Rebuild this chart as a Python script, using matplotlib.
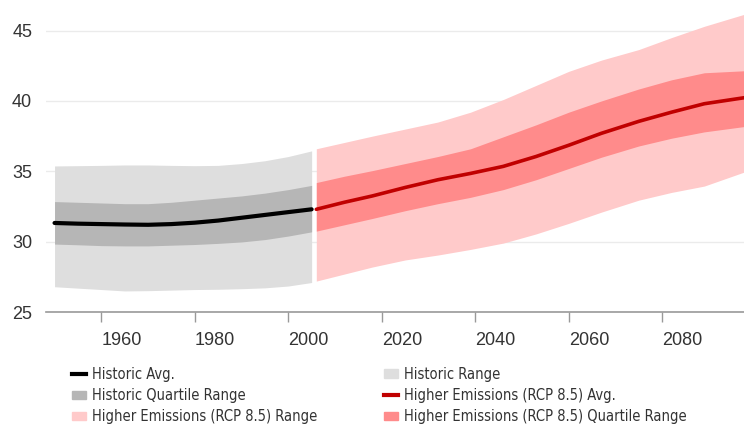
import matplotlib
matplotlib.use("Agg")
import matplotlib.pyplot as plt
from matplotlib.lines import Line2D
from matplotlib.patches import Patch

# historic period
hist_years = [1950, 1955, 1960, 1965, 1970, 1975, 1980, 1985, 1990, 1995, 2000, 2005]
hist_avg = [31.33, 31.28, 31.25, 31.22, 31.2, 31.25, 31.35, 31.5, 31.7, 31.9, 32.1, 32.3]
hist_q_hi = [32.85, 32.8, 32.75, 32.7, 32.7, 32.8, 32.95, 33.1, 33.25, 33.45, 33.7, 34.0]
hist_q_lo = [29.83, 29.78, 29.72, 29.7, 29.7, 29.75, 29.8, 29.88, 29.98, 30.15, 30.4, 30.7]
hist_r_hi = [35.38, 35.4, 35.42, 35.45, 35.45, 35.42, 35.4, 35.42, 35.55, 35.75, 36.05, 36.45]
hist_r_lo = [26.8, 26.7, 26.6, 26.5, 26.52, 26.56, 26.6, 26.62, 26.66, 26.72, 26.85, 27.1]

# higher emissions (RCP 8.5) projection
proj_years = [2006, 2012, 2018, 2025, 2032, 2039, 2046, 2053, 2060, 2067, 2075, 2082, 2089, 2098]
proj_avg = [32.3, 32.8, 33.25, 33.85, 34.4, 34.85, 35.35, 36.05, 36.85, 37.7, 38.55, 39.2, 39.8, 40.25]
proj_q_hi = [34.2, 34.65, 35.05, 35.55, 36.05, 36.6, 37.45, 38.3, 39.2, 40.0, 40.85, 41.5, 42.0, 42.15]
proj_q_lo = [30.75, 31.2, 31.65, 32.2, 32.7, 33.15, 33.7, 34.4, 35.2, 36.0, 36.8, 37.35, 37.8, 38.2]
proj_r_hi = [36.6, 37.05, 37.5, 38.0, 38.5, 39.2, 40.1, 41.1, 42.1, 42.9, 43.65, 44.5, 45.3, 46.2]
proj_r_lo = [27.2, 27.7, 28.2, 28.7, 29.05, 29.45, 29.9, 30.55, 31.3, 32.1, 32.95, 33.5, 33.95, 35.0]

y_ticks = [25, 30, 35, 40, 45]
x_ticks = [1960, 1980, 2000, 2020, 2040, 2060, 2080]

C_HIST_R = "#dedede"
C_HIST_Q = "#b6b6b6"
C_PROJ_R = "#ffcaca"
C_PROJ_Q = "#ff8b8b"
C_PROJ_L = "#c00000"

plt.rcParams["font.family"] = ["Liberation Sans", "DejaVu Sans"]

fig = plt.figure(figsize=(7.44, 4.24), dpi=100)
ax = fig.add_axes([0.062, 0.264, 0.938, 0.736])

ax.fill_between(hist_years, hist_r_lo, hist_r_hi, color=C_HIST_R, lw=0)
ax.fill_between(hist_years, hist_q_lo, hist_q_hi, color=C_HIST_Q, lw=0)
ax.plot(hist_years, hist_avg, color="black", lw=3, solid_capstyle="round")

ax.fill_between(proj_years, proj_r_lo, proj_r_hi, color=C_PROJ_R, lw=0)
ax.fill_between(proj_years, proj_q_lo, proj_q_hi, color=C_PROJ_Q, lw=0)
ax.plot(proj_years, proj_avg, color=C_PROJ_L, lw=2.6, solid_capstyle="round")

ax.set_xlim(1948.2, 2097.5)
ax.set_ylim(25, 47.17)
ax.set_yticks(y_ticks)
ax.set_xticks(x_ticks)
ax.grid(axis="y", color="#ebebeb", lw=1)
ax.set_axisbelow(True)
for s in ["top", "right", "left"]:
    ax.spines[s].set_visible(False)
ax.spines["bottom"].set_color("#999999")
ax.spines["bottom"].set_linewidth(1.2)
ax.tick_params(axis="y", length=0, pad=10, labelsize=13, labelcolor="#333333")
ax.tick_params(axis="x", length=7, width=1, color="#999999", pad=7,
               labelsize=13, labelcolor="#333333")
for lab in ax.get_xticklabels():
    lab.set_ha("left")

handles = [
    Line2D([0], [0], color="black", lw=3),
    Patch(color=C_HIST_Q),
    Patch(color=C_PROJ_R),
    Patch(color=C_HIST_R),
    Line2D([0], [0], color=C_PROJ_L, lw=3),
    Patch(color=C_PROJ_Q),
]
labels = [
    "Historic Avg.",
    "Historic Quartile Range",
    "Higher Emissions (RCP 8.5) Range",
    "Historic Range",
    "Higher Emissions (RCP 8.5) Avg.",
    "Higher Emissions (RCP 8.5) Quartile Range",
]
fig.legend(handles, labels, ncol=2, loc="upper left",
           bbox_to_anchor=(0.0966, 0.135), bbox_transform=fig.transFigure,
           frameon=False, borderpad=0, borderaxespad=0,
           handlelength=0.95, handleheight=0.5, handletextpad=0.4,
           columnspacing=4.6, labelspacing=0.42,
           prop={"family": "DejaVu Sans", "stretch": "condensed", "size": 10.5},
           labelcolor="#333333")

fig.savefig("out.png", dpi=100)
